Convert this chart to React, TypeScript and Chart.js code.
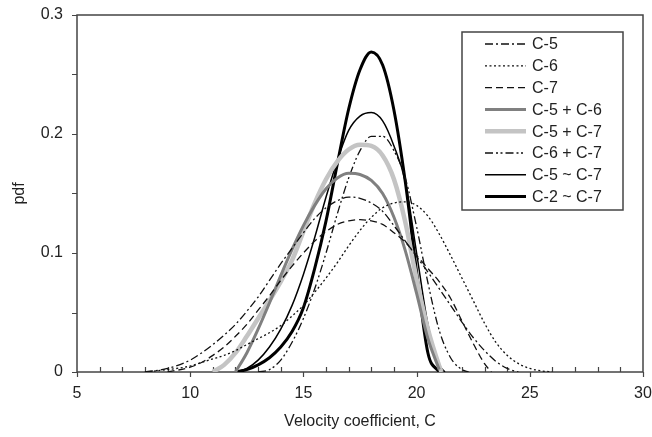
import { useEffect, useRef } from "react";
import { Chart, registerables } from "chart.js";

Chart.register(...registerables);

// ---- axis ticks ----
const xTickLabels = [5, 10, 15, 20, 25, 30];
const yTickLabels = [0, 0.1, 0.2, 0.3];

// ---- series (x = velocity coefficient C, y = pdf) ----
const c5X = [8, 9, 10, 10.5, 11, 11.5, 12, 12.5, 13, 13.5, 14, 14.5, 15, 15.5, 16, 16.5, 17, 17.5, 18, 18.5, 19, 19.5, 20, 20.5, 21, 21.5, 22, 22.5, 23, 23.5, 24, 24.5];
const c5Y = [0, 0.003, 0.01, 0.016, 0.023, 0.031, 0.04, 0.051, 0.063, 0.077, 0.091, 0.104, 0.117, 0.129, 0.138, 0.144, 0.147, 0.146, 0.142, 0.135, 0.123, 0.11, 0.097, 0.084, 0.07, 0.056, 0.042, 0.029, 0.018, 0.009, 0.003, 0];

const c6X = [8, 9, 10, 10.5, 11, 11.5, 12, 12.5, 13, 13.5, 14, 14.5, 15, 15.5, 16, 16.5, 17, 17.5, 18, 18.5, 19, 19.5, 20, 20.5, 21, 21.5, 22, 22.5, 23, 23.5, 24, 24.5, 25, 25.5, 26];
const c6Y = [0, 0.002, 0.005, 0.008, 0.011, 0.014, 0.018, 0.023, 0.028, 0.033, 0.039, 0.047, 0.056, 0.067, 0.079, 0.092, 0.106, 0.119, 0.13, 0.138, 0.142, 0.143, 0.14, 0.131, 0.116, 0.098, 0.079, 0.06, 0.041, 0.025, 0.014, 0.007, 0.003, 0.001, 0];

const c7X = [9, 10, 10.5, 11, 11.5, 12, 12.5, 13, 13.5, 14, 14.5, 15, 15.5, 16, 16.5, 17, 17.5, 18, 18.5, 19, 19.5, 20, 20.5, 21, 21.5, 22, 22.5, 23, 23.3];
const c7Y = [0, 0.004, 0.008, 0.014, 0.021, 0.03, 0.04, 0.052, 0.064, 0.077, 0.089, 0.1, 0.11, 0.118, 0.124, 0.127, 0.128, 0.127, 0.124, 0.117, 0.109, 0.098, 0.087, 0.076, 0.062, 0.043, 0.024, 0.007, 0];

const c56X = [12, 12.5, 13, 13.5, 14, 14.5, 15, 15.5, 16, 16.5, 17, 17.5, 18, 18.5, 19, 19.5, 20, 20.5, 21];
const c56Y = [0, 0.016, 0.036, 0.058, 0.081, 0.103, 0.123, 0.14, 0.154, 0.163, 0.167, 0.166, 0.161, 0.15, 0.13, 0.102, 0.066, 0.028, 0.002];

const c57X = [11, 11.5, 12, 12.5, 13, 13.5, 14, 14.5, 15, 15.5, 16, 16.5, 17, 17.5, 18, 18.5, 19, 19.5, 20, 20.5, 21, 21.1];
const c57Y = [0, 0.006, 0.016, 0.03, 0.045, 0.06, 0.076, 0.094, 0.118, 0.142, 0.162, 0.177, 0.187, 0.191, 0.19, 0.182, 0.162, 0.126, 0.078, 0.036, 0.005, 0];

const c67X = [13, 13.5, 14, 14.5, 15, 15.5, 16, 16.5, 17, 17.5, 18, 18.5, 19, 19.5, 20, 20.5, 21, 21.5, 22, 22.3];
const c67Y = [0, 0.002, 0.01, 0.025, 0.045, 0.07, 0.1, 0.133, 0.163, 0.186, 0.198, 0.198, 0.186, 0.163, 0.122, 0.075, 0.035, 0.012, 0.002, 0];

const c5to7X = [12, 12.5, 13, 13.5, 14, 14.5, 15, 15.5, 16, 16.5, 17, 17.5, 18, 18.5, 19, 19.5, 20, 20.5, 21, 21.25];
const c5to7Y = [0, 0.003, 0.01, 0.021, 0.036, 0.056, 0.082, 0.113, 0.147, 0.178, 0.203, 0.215, 0.218, 0.211, 0.19, 0.16, 0.1, 0.04, 0.006, 0];

const c2to7X = [12, 12.5, 13, 13.5, 14, 14.5, 15, 15.5, 16, 16.5, 17, 17.5, 18, 18.5, 19, 19.5, 20, 20.5, 21];
const c2to7Y = [0, 0.002, 0.006, 0.012, 0.021, 0.034, 0.054, 0.087, 0.127, 0.175, 0.221, 0.254, 0.269, 0.258, 0.22, 0.16, 0.084, 0.016, 0];

const seriesNames = ["C-5", "C-6", "C-7", "C-5 + C-6", "C-5 + C-7", "C-6 + C-7", "C-5 ~ C-7", "C-2 ~ C-7"];
const seriesXs = [c5X, c6X, c7X, c56X, c57X, c67X, c5to7X, c2to7X];
const seriesYs = [c5Y, c6Y, c7Y, c56Y, c57Y, c67Y, c5to7Y, c2to7Y];

const styles = [
  { color: "#111", width: 1.3, dash: [8, 3, 2, 3] },
  { color: "#111", width: 1.3, dash: [2, 2.5] },
  { color: "#111", width: 1.3, dash: [7, 4] },
  { color: "#808080", width: 3, dash: [] },
  { color: "#c4c4c4", width: 4.5, dash: [] },
  { color: "#111", width: 1.3, dash: [8, 3, 2, 2.5, 2, 3] },
  { color: "#000", width: 1.5, dash: [] },
  { color: "#000", width: 3, dash: [] },
];

const FONT = "'Liberation Sans', Arial, sans-serif";
const AXIS = "#444";

const framePlugin = {
  id: "frame",
  beforeDatasetsDraw(chart: any) {
    const { ctx, chartArea: a, scales } = chart;
    const x = scales.x;
    const y = scales.y;
    ctx.save();
    ctx.strokeStyle = AXIS;
    ctx.lineWidth = 1.5;
    ctx.strokeRect(a.left, a.top, a.right - a.left, a.bottom - a.top);
    ctx.lineWidth = 1.2;
    ctx.beginPath();
    for (let v = x.min; v <= x.max; v += 1) {
      const px = Math.round(x.getPixelForValue(v)) + 0.5;
      if (v % 5 === 0) {
        ctx.moveTo(px, a.bottom);
        ctx.lineTo(px, a.bottom + 5);
      } else {
        ctx.moveTo(px, a.bottom);
        ctx.lineTo(px, a.bottom - 5);
      }
    }
    for (let i = 0; i <= 6; i++) {
      const v = i * 0.05;
      const py = Math.round(y.getPixelForValue(v)) + 0.5;
      ctx.moveTo(a.left, py);
      ctx.lineTo(a.left - 5, py);
    }
    ctx.stroke();
    ctx.restore();
  },
};

const legendPlugin = {
  id: "boxLegend",
  afterDraw(chart: any) {
    const { ctx, chartArea: a } = chart;
    const right = a.right - 20;
    const top = a.top + 17;
    const w = 161;
    const h = 178;
    const left = right - w;
    ctx.save();
    ctx.fillStyle = "#fff";
    ctx.fillRect(left, top, w, h);
    ctx.strokeStyle = AXIS;
    ctx.lineWidth = 1.5;
    ctx.strokeRect(left, top, w, h);
    chart.data.datasets.forEach((ds: any, i: number) => {
      const yy = top + 12 + i * 21.8;
      ctx.beginPath();
      ctx.strokeStyle = ds.borderColor;
      ctx.lineWidth = ds.borderWidth;
      ctx.setLineDash(ds.borderDash || []);
      ctx.moveTo(left + 23, yy);
      ctx.lineTo(left + 64, yy);
      ctx.stroke();
      ctx.setLineDash([]);
      ctx.fillStyle = "#222";
      ctx.font = `16px ${FONT}`;
      ctx.textBaseline = "middle";
      ctx.textAlign = "left";
      ctx.fillText(ds.label, left + 70, yy + 1);
    });
    ctx.restore();
  },
};

export default function App() {
  const ref = useRef<HTMLCanvasElement | null>(null);
  useEffect(() => {
    if (!ref.current) return;
    const datasets = seriesNames.map((name, i) => ({
      label: name,
      data: seriesXs[i].map((xv, j) => ({ x: xv, y: seriesYs[i][j] })),
      borderColor: styles[i].color,
      borderWidth: styles[i].width,
      borderDash: styles[i].dash,
      pointRadius: 0,
      fill: false,
      cubicInterpolationMode: "monotone" as const,
    }));
    const chart = new Chart(ref.current, {
      type: "line",
      data: { datasets },
      plugins: [framePlugin, legendPlugin],
      options: {
        animation: false,
        responsive: true,
        maintainAspectRatio: false,
        layout: { padding: { top: 15, right: 9, left: 0, bottom: 0 } },
        plugins: { legend: { display: false }, tooltip: { enabled: false } },
        scales: {
          x: {
            type: "linear",
            min: 5,
            max: 30,
            afterFit: (s: any) => {
              s.height = 65;
              s.paddingLeft = 0;
              s.paddingRight = 0;
            },
            grid: { display: false, drawTicks: false },
            border: { display: false },
            ticks: {
              stepSize: 5,
              padding: 12,
              color: "#222",
              font: { size: 16, family: FONT },
              callback: (v: any) => {
                const t = xTickLabels.find((q) => Math.abs(q - Number(v)) < 1e-6);
                return t === undefined ? "" : String(t);
              },
            },
            title: {
              display: true,
              text: "Velocity coefficient, C",
              color: "#222",
              font: { size: 16, family: FONT },
              padding: { top: 0, bottom: 6 },
            },
          },
          y: {
            type: "linear",
            min: 0,
            max: 0.3,
            afterFit: (s: any) => {
              s.width = 77;
              s.paddingTop = 0;
              s.paddingBottom = 0;
            },
            grid: { display: false, drawTicks: false },
            border: { display: false },
            ticks: {
              stepSize: 0.1,
              padding: 14,
              color: "#222",
              font: { size: 16, family: FONT },
              callback: (v: any) => {
                const t = yTickLabels.find((q) => Math.abs(q - Number(v)) < 1e-6);
                return t === undefined ? "" : String(t);
              },
            },
            title: {
              display: true,
              text: "pdf",
              color: "#222",
              font: { size: 16, family: FONT },
              padding: { top: 10, bottom: 0 },
            },
          },
        },
      },
    });
    return () => chart.destroy();
  }, []);
  return (
    <div style={{ position: "fixed", left: 0, top: 0, width: 652, height: 437, background: "#fff" }}>
      <canvas ref={ref} />
    </div>
  );
}
